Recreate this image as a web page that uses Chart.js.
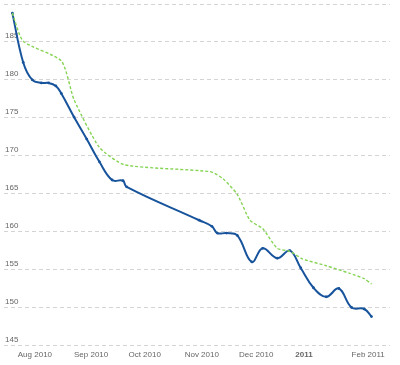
<!DOCTYPE html>
<html>
<head>
<meta charset="utf-8">
<script src="https://cdn.jsdelivr.net/npm/chart.js@4/dist/chart.umd.min.js"></script>
<style>
  html, body { margin: 0; padding: 0; background: #fff; }
  #wrap { width: 400px; height: 365px; }
</style>
</head>
<body>
<div id="wrap"><canvas id="chart"></canvas></div>
<script>
'use strict';

// weigh-ins (dates, roughly weekly)
const actualDates = [
  '2010-07-29','2010-08-04','2010-08-09','2010-08-14','2010-08-18','2010-08-22',
  '2010-08-25','2010-09-01','2010-09-08','2010-09-15','2010-09-22','2010-09-28',
  '2010-09-30','2010-11-09','2010-11-16','2010-11-19','2010-11-24','2010-11-30',
  '2010-12-08','2010-12-14','2010-12-22','2010-12-29','2011-01-04','2011-01-11',
  '2011-01-18','2011-01-25','2011-02-01','2011-02-08','2011-02-12'
];
const actualWeights = [
  188.8, 182.3, 180.0, 179.6, 179.6, 179.2,
  178.2, 175.1, 172.2, 169.2, 166.8, 166.7,
  165.9, 161.5, 160.7, 159.8, 159.8, 159.5,
  156.0, 157.8, 156.5, 157.5, 155.2, 152.6,
  151.4, 152.5, 150.0, 149.8, 148.8
];

// trend line
const trendDates = [
  '2010-07-29','2010-08-04','2010-08-25','2010-09-01','2010-09-15','2010-09-29',
  '2010-11-15','2010-11-22','2010-11-30','2010-12-07','2010-12-14','2010-12-22',
  '2010-12-29','2011-01-05','2011-01-18','2011-01-31','2011-02-08','2011-02-12'
];
const trendWeights = [
  188.8, 185.1, 182.5, 177.4, 171.1, 168.8,
  167.9, 167.0, 164.9, 161.5, 160.4, 157.8,
  157.4, 156.4, 155.5, 154.5, 153.8, 153.1
];

const monthTicks = ['2010-08-01','2010-09-01','2010-10-01','2010-11-01','2010-12-01','2011-01-01','2011-02-01'];
const monthLabels = ['Aug 2010','Sep 2010','Oct 2010','Nov 2010','Dec 2010','2011','Feb 2011'];

const yMin = 145, yMax = 190, yStep = 5;

// days counted from 1 Aug 2010
const origin = Date.UTC(2010, 7, 1);
var toDay = (s)=>{
  const p = s.split('-');
  return (Date.UTC(+p[0], +p[1]-1, +p[2]) - origin)/86400000;
};
var pairs = (dates, vals)=>dates.map((d,i)=>({x: toDay(d), y: vals[i]}));

const tickDays = monthTicks.map(toDay);

var config = {
  type: 'line',
  data: {
    datasets: [{
      label: 'trend',
      data: pairs(trendDates, trendWeights),
      borderColor: 'rgb(134, 212, 84)',
      borderWidth: 1.4,
      borderDash: [3, 2],
      pointRadius: 0,
      tension: 0.2,
      fill: false
    }, {
      label: 'weight',
      data: pairs(actualDates, actualWeights),
      borderColor: 'rgb(24, 84, 156)',
      backgroundColor: 'rgb(24, 84, 156)',
      borderWidth: 2,
      pointRadius: 1.4,
      pointBorderWidth: 0,
      tension: 0.4,
      fill: false
    }]
  },
  options: {
    responsive: true,
    maintainAspectRatio: false,
    animation: false,
    layout: { padding: { top: -2, right: 10, bottom: 0, left: 0 } },
    plugins: { legend: { display: false }, tooltip: { enabled: false } },
    scales: {
      x: {
        type: 'linear',
        min: -7.6,
        max: 205.2,
        border: { display: false },
        grid: { display: false, drawTicks: false },
        afterBuildTicks: (axis)=>{ axis.ticks = tickDays.map(v=>({value: v})); },
        afterFit: (axis)=>{ axis.paddingLeft = 0; axis.paddingRight = 0; },
        ticks: {
          autoSkip: false,
          maxRotation: 0,
          align: 'start',
          padding: 5,
          color: '#666',
          font: (ctx)=>({ family: 'Liberation Sans, Arial', size: 8,
                          weight: ctx.tick && ctx.tick.value === tickDays[5] ? 'bold' : 'normal' }),
          callback: (v)=>{ const i = tickDays.indexOf(v); return i < 0 ? '' : monthLabels[i]; }
        }
      },
      y: {
        min: yMin,
        max: yMax,
        border: { display: false, dash: [4, 3] },
        grid: { color: '#d4d4d4', lineWidth: 1, drawTicks: false },
        afterFit: (axis)=>{ axis.paddingTop = 0; axis.paddingBottom = 0; },
        ticks: {
          stepSize: yStep,
          mirror: true,
          padding: 1,
          labelOffset: -6,
          color: '#666',
          font: { family: 'Liberation Sans, Arial', size: 8 },
          callback: (v)=> v === yMax ? '' : v
        }
      }
    }
  }
};

window.onload = function() {
  var ctx = document.getElementById('chart').getContext('2d');
  window.myChart = new Chart(ctx, config);
};
</script>
</body>
</html>
